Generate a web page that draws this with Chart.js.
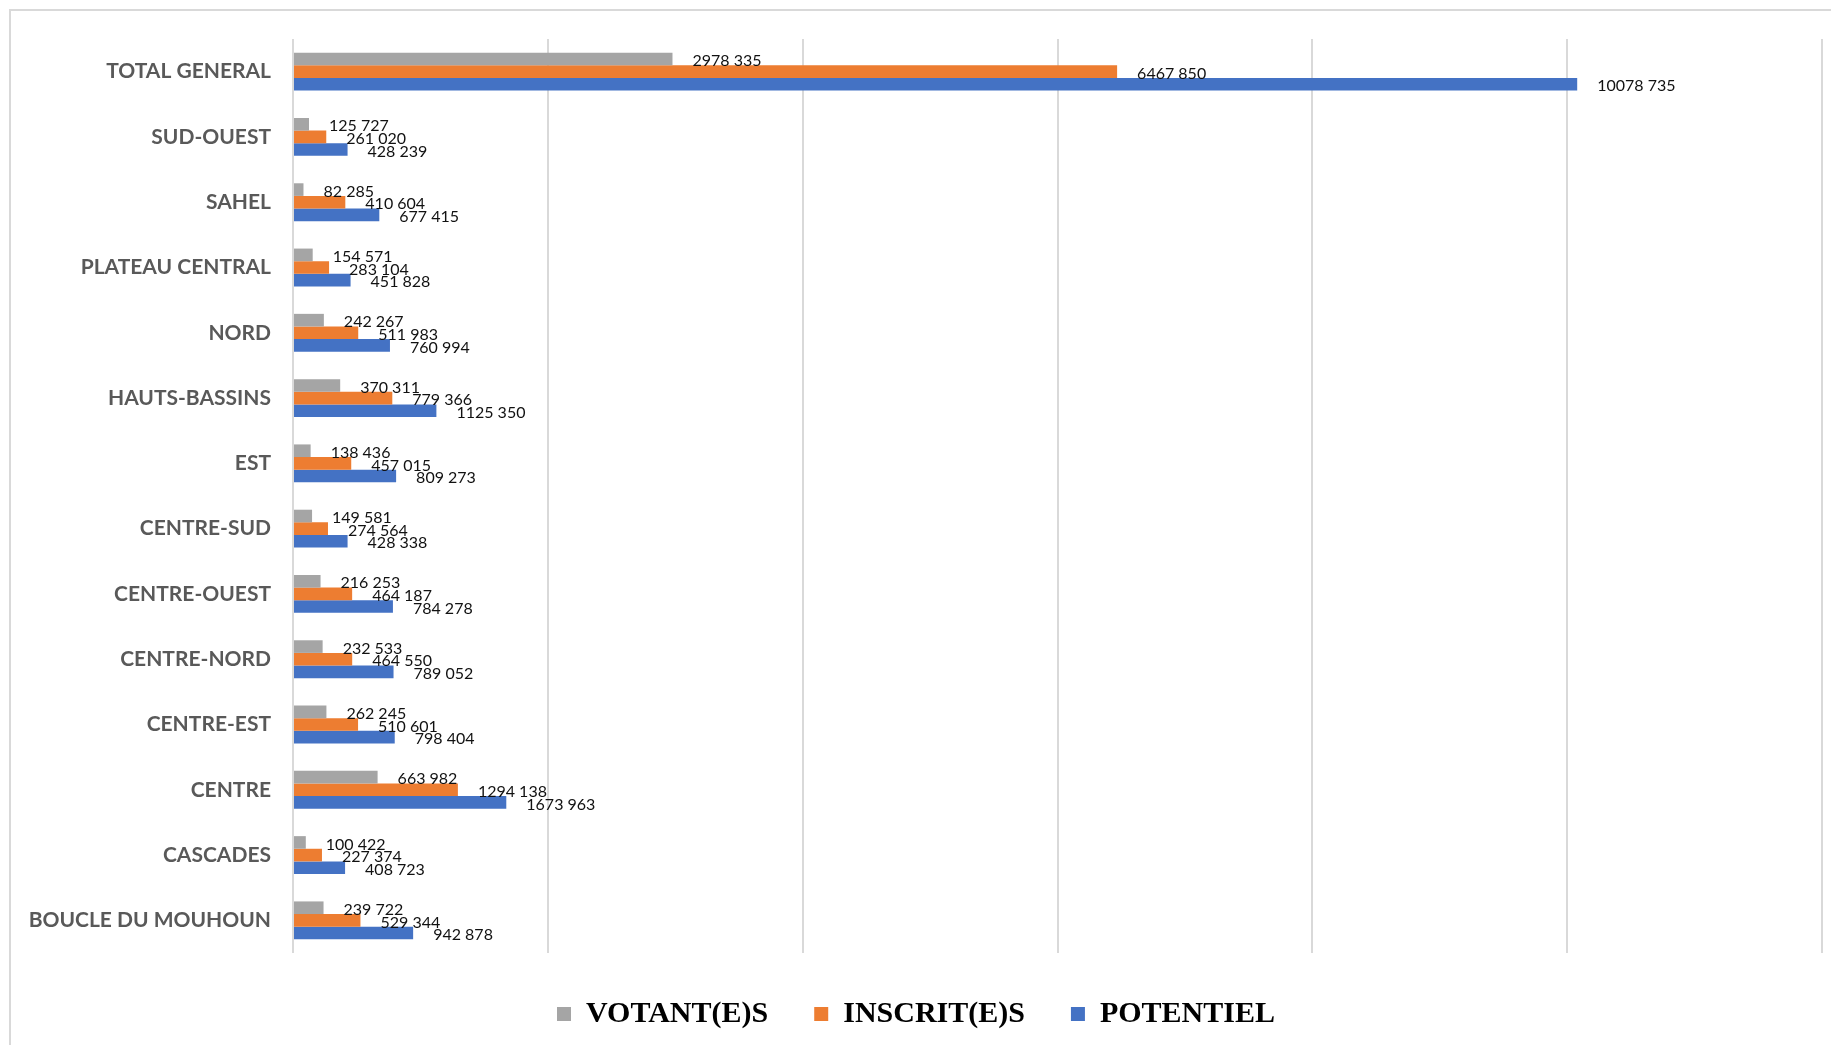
<!DOCTYPE html>
<html>
<head>
<meta charset="utf-8">
<title>Votants, inscrits, potentiel par région</title>
<script src="https://cdn.jsdelivr.net/npm/chart.js@4"></script>
<style>
  html, body { margin: 0; padding: 0; background: #fff; overflow: hidden; }
  #wrap { position: relative; width: 1831px; height: 1045px; }
  #frame {
    position: absolute; left: 9px; top: 9px; width: 1840px; height: 1060px;
    border-left: 2px solid #d9d9d9; border-top: 2px solid #d9d9d9;
    pointer-events: none;
  }
</style>
</head>
<body>
<div id="wrap">
  <canvas id="chart" width="1831" height="1045"></canvas>
  <div id="frame"></div>
</div>
<script>
  const regions = [
    "TOTAL GENERAL",
    "SUD-OUEST",
    "SAHEL",
    "PLATEAU CENTRAL",
    "NORD",
    "HAUTS-BASSINS",
    "EST",
    "CENTRE-SUD",
    "CENTRE-OUEST",
    "CENTRE-NORD",
    "CENTRE-EST",
    "CENTRE",
    "CASCADES",
    "BOUCLE DU MOUHOUN"
  ];

  const votants = [2978335, 125727, 82285, 154571, 242267, 370311, 138436, 149581, 216253, 232533, 262245, 663982, 100422, 239722];
  const inscrits = [6467850, 261020, 410604, 283104, 511983, 779366, 457015, 274564, 464187, 464550, 510601, 1294138, 227374, 529344];
  const potentiel = [10078735, 428239, 677415, 451828, 760994, 1125350, 809273, 428338, 784278, 789052, 798404, 1673963, 408723, 942878];

  const xMax = 12000000;
  const xStep = 2000000;

  // "10078 735" style: only the last group is separated
  function fmt(n) {
    if (n < 1000) return String(n);
    const rest = String(n % 1000).padStart(3, '0');
    return Math.floor(n / 1000) + ' ' + rest;
  }

  const valueLabels = {
    id: 'valueLabels',
    afterDatasetsDraw(chart) {
      const ctx = chart.ctx;
      ctx.save();
      ctx.font = '16px Lato';
      ctx.fillStyle = '#111';
      ctx.textAlign = 'left';
      ctx.textBaseline = 'middle';
      chart.data.datasets.forEach((ds, i) => {
        const meta = chart.getDatasetMeta(i);
        meta.data.forEach((bar, j) => {
          ctx.fillText(fmt(ds.data[j]), bar.x + 20, bar.y + 2);
        });
      });
      ctx.restore();
    }
  };

  const ctx = document.getElementById('chart').getContext('2d');
  new Chart(ctx, {
    type: 'bar',
    data: {
      labels: regions,
      datasets: [
        { label: 'VOTANT(E)S', data: votants, backgroundColor: '#a5a5a5' },
        { label: 'INSCRIT(E)S', data: inscrits, backgroundColor: '#ed7d31' },
        { label: 'POTENTIEL', data: potentiel, backgroundColor: '#4472c4' }
      ]
    },
    options: {
      indexAxis: 'y',
      responsive: false,
      animation: false,
      devicePixelRatio: 1,
      datasets: {
        bar: { categoryPercentage: 0.58, barPercentage: 1.0 }
      },
      layout: {
        padding: { left: 10, right: 9, top: 39, bottom: 6 }
      },
      scales: {
        x: {
          min: 0,
          max: xMax,
          ticks: { display: false, stepSize: xStep },
          grid: { color: '#d9d9d9', lineWidth: 2, drawTicks: false },
          border: { display: false },
          afterFit(scale) { scale.height = 0; }
        },
        y: {
          grid: { display: false, drawTicks: false },
          border: { display: false },
          ticks: {
            color: '#595959',
            font: { family: 'Lato', size: 21, weight: 'bold' },
            padding: 22
          },
          afterFit(scale) { scale.width = 283; }
        }
      },
      plugins: {
        legend: {
          position: 'bottom',
          labels: {
            boxWidth: 14,
            boxHeight: 14,
            padding: 46,
            color: '#000',
            font: { family: 'Liberation Serif', size: 30, weight: 'bold' }
          }
        },
        tooltip: { enabled: false }
      }
    },
    plugins: [valueLabels]
  });
</script>
</body>
</html>
